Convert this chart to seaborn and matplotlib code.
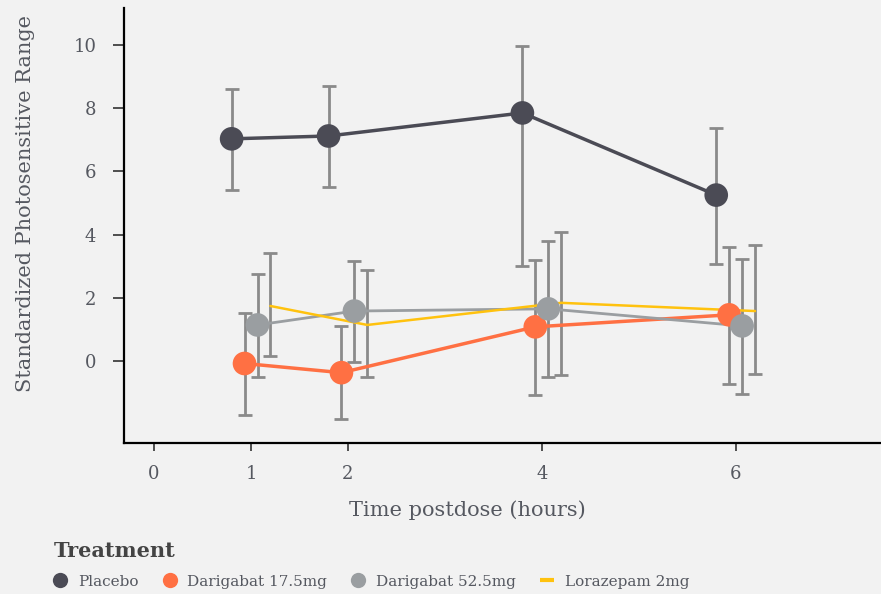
import numpy as np
import pandas as pd
import matplotlib
matplotlib.use("Agg")
import matplotlib.pyplot as plt
import seaborn as sns
from matplotlib.lines import Line2D

# ---- data ----
hours = [1, 2, 4, 6]
treatments = ["Placebo", "Darigabat 17.5mg", "Darigabat 52.5mg", "Lorazepam 2mg"]
placebo_mean = [7.03, 7.12, 7.85, 5.25]
placebo_low = [5.40, 5.50, 3.00, 3.07]
placebo_high = [8.60, 8.70, 9.97, 7.37]
dari175_mean = [-0.08, -0.37, 1.08, 1.46]
dari175_low = [-1.71, -1.84, -1.08, -0.73]
dari175_high = [1.52, 1.11, 3.20, 3.61]
dari525_mean = [1.14, 1.58, 1.65, 1.11]
dari525_low = [-0.51, -0.03, -0.51, -1.04]
dari525_high = [2.75, 3.17, 3.80, 3.23]
loraz_mean = [1.74, 1.14, 1.84, 1.58]
loraz_low = [0.16, -0.50, -0.44, -0.41]
loraz_high = [3.42, 2.88, 4.08, 3.67]
x_ticks = [0, 1, 2, 4, 6]
y_ticks = [0, 2, 4, 6, 8, 10]

means = [placebo_mean, dari175_mean, dari525_mean, loraz_mean]
lows = [placebo_low, dari175_low, dari525_low, loraz_low]
highs = [placebo_high, dari175_high, dari525_high, loraz_high]
offsets = [-0.2, -0.067, 0.067, 0.2]
colors = ["#4b4b55", "#ff7043", "#9a9ea1", "#ffc20e"]
widths = [2.5, 2.5, 2.0, 1.8]

rows = []
for t, m, lo, hi, off in zip(treatments, means, lows, highs, offsets):
    for h, v, l, u in zip(hours, m, lo, hi):
        rows.append(dict(treatment=t, hour=h + off, value=v, low=l, high=u))
df = pd.DataFrame(rows)

sns.set_theme(style="white")
bg = "#f2f2f2"
txt = "#555860"
plt.rcParams["font.family"] = ["DejaVu Serif"]

fig = plt.figure(figsize=(8.81, 5.94), dpi=100, facecolor=bg)
ax = fig.add_axes([0.1408, 0.254, 0.8592, 0.7325])
ax.set_facecolor(bg)

palette = dict(zip(treatments, colors))
# error bars
for t, c in zip(treatments, colors):
    d = df[df.treatment == t]
    ax.errorbar(d.hour, d.value, yerr=[d.value - d.low, d.high - d.value],
                fmt="none", ecolor="#8a8a8a", elinewidth=2, capsize=5,
                capthick=2, zorder=1)
# lines
for t, c, w in zip(treatments, colors, widths):
    d = df[df.treatment == t]
    sns.lineplot(data=d, x="hour", y="value", color=c, linewidth=w, ax=ax,
                 zorder=2, legend=False, sort=True)
# markers
dm = df[df.treatment != "Lorazepam 2mg"]
sns.scatterplot(data=dm, x="hour", y="value", hue="treatment", palette=palette,
                s=290, linewidth=0, ax=ax, zorder=3, legend=False)

ax.set_xlim(-0.31, 7.5)
ax.set_ylim(-2.6, 11.17)
ax.set_xticks(x_ticks)
ax.set_xticklabels([str(v) for v in x_ticks])
ax.set_yticks(y_ticks)
ax.set_yticklabels([str(v) for v in y_ticks])
for s in ["top", "right"]:
    ax.spines[s].set_visible(False)
for s in ["left", "bottom"]:
    ax.spines[s].set_color("black")
    ax.spines[s].set_linewidth(1.6)
ax.tick_params(axis="y", length=8, width=1.2, color="#333333", labelsize=13,
               labelcolor=txt, pad=12, left=True)
ax.tick_params(axis="x", length=6, width=1.2, color="#333333", labelsize=13,
               labelcolor=txt, pad=10, bottom=True)
ax.set_xlabel("Time postdose (hours)", fontsize=15, color=txt)
ax.xaxis.set_label_coords(0.453, -0.132)
ax.set_ylabel("Standardized Photosensitive Range", fontsize=15, color=txt)
ax.yaxis.set_label_coords(-0.117, 0.55)

handles = []
for t, c in zip(treatments, colors):
    if t == "Lorazepam 2mg":
        handles.append(Line2D([0], [0], color=c, linewidth=3, solid_capstyle="butt"))
    else:
        handles.append(Line2D([0], [0], marker="o", linestyle="none",
                              markerfacecolor=c, markeredgewidth=0, markersize=11))
leg = fig.legend(handles, treatments, loc="lower left", bbox_to_anchor=(0.045, -0.014),
                 ncol=4, frameon=False, title="Treatment", fontsize=11,
                 handlelength=0.9, handletextpad=0.7, columnspacing=1.6,
                 title_fontproperties={"weight": "bold", "size": 15})
leg._legend_box.align = "left"
leg._legend_box.sep = 10
leg.get_title().set_color("#444444")
for tx in leg.get_texts():
    tx.set_color(txt)

fig.savefig("out.png", dpi=100, facecolor=bg)
